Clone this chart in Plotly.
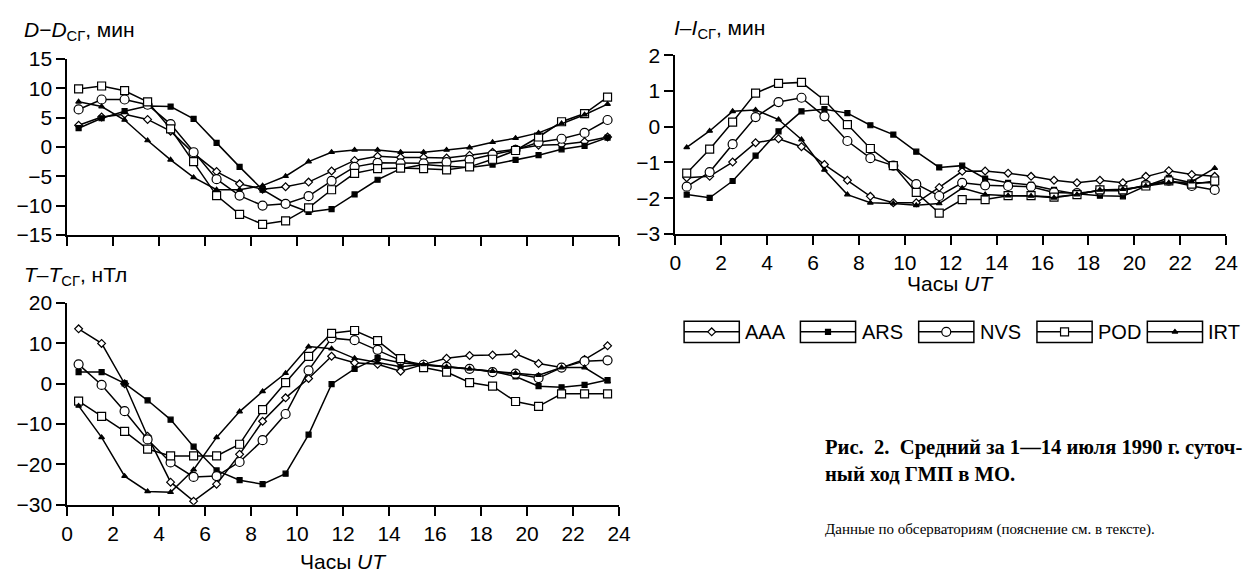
import plotly.graph_objects as go

hours = [0.5, 1.5, 2.5, 3.5, 4.5, 5.5, 6.5, 7.5, 8.5, 9.5, 10.5, 11.5,
         12.5, 13.5, 14.5, 15.5, 16.5, 17.5, 18.5, 19.5, 20.5, 21.5, 22.5, 23.5]
stations = ["AAA", "ARS", "NVS", "POD", "IRT"]

# D - D_SG, min
D_AAA = [3.7, 5.1, 5.6, 4.7, 2.7, -1.1, -4.2, -6.3, -7.2, -6.8, -6.0, -4.1,
         -2.3, -1.6, -1.8, -1.8, -1.9, -1.4, -0.9, -0.4, 0.3, 0.4, 0.9, 1.7]
D_ARS = [3.2, 4.9, 6.1, 7.0, 6.9, 4.8, 0.7, -3.4, -7.3, -9.6, -11.1, -10.6,
         -8.1, -5.6, -3.7, -3.0, -3.3, -3.5, -3.0, -2.2, -1.4, -0.4, 0.2, 1.6]
D_NVS = [6.4, 8.1, 8.1, 7.2, 3.9, -0.9, -5.5, -8.3, -10.0, -9.7, -8.4, -5.8,
         -3.4, -2.7, -2.8, -2.8, -2.6, -2.2, -1.3, -0.5, 0.8, 1.4, 2.4, 4.6]
D_POD = [9.9, 10.4, 9.6, 7.7, 3.1, -2.5, -8.3, -11.5, -13.2, -12.6, -10.4, -7.3,
         -4.5, -3.7, -3.6, -3.7, -3.9, -3.4, -2.1, -0.6, 1.7, 4.3, 5.7, 8.5]
D_IRT = [7.7, 6.9, 4.6, 1.1, -2.2, -5.2, -7.3, -7.3, -6.6, -5.0, -2.5, -0.9,
         -0.5, -0.5, -0.9, -0.9, -0.5, -0.1, 0.8, 1.5, 2.4, 4.0, 5.5, 7.3]

# T - T_SG, nT
T_AAA = [13.6, 10.0, 0.0, -13.0, -24.4, -29.1, -24.9, -17.5, -9.3, -3.5, 1.3, 6.8,
         5.2, 4.8, 3.1, 4.8, 6.3, 7.0, 7.1, 7.4, 5.0, 4.0, 6.0, 9.4]
T_ARS = [2.9, 2.9, 0.1, -4.1, -8.9, -15.6, -21.5, -23.9, -24.9, -22.3, -12.6, -0.1,
         3.7, 6.4, 5.2, 4.7, 4.2, 3.7, 3.1, 1.8, -0.6, -0.9, -0.3, 0.9]
T_NVS = [4.8, -0.3, -6.8, -13.8, -19.5, -23.1, -22.9, -19.4, -14.0, -7.5, 3.3, 11.3,
         10.8, 8.4, 5.8, 4.7, 4.2, 3.7, 2.9, 2.5, 1.4, 4.0, 5.6, 5.8]
T_POD = [-4.3, -8.1, -11.8, -16.2, -17.9, -17.9, -17.9, -15.0, -6.4, 0.3, 6.8, 12.5,
         13.2, 10.7, 6.2, 4.0, 2.9, 0.3, -0.6, -4.4, -5.6, -2.5, -2.5, -2.5]
T_IRT = [-5.5, -13.3, -22.9, -26.7, -26.9, -21.3, -13.3, -6.9, -1.9, 2.6, 9.2, 8.7,
         6.3, 5.2, 4.2, 4.8, 4.2, 3.7, 3.1, 2.6, 2.1, 4.0, 4.0, 0.5]

# I - I_SG, min
I_AAA = [-1.43, -1.39, -0.99, -0.45, -0.34, -0.56, -1.06, -1.50, -1.95, -2.13, -2.13, -1.70,
         -1.25, -1.24, -1.30, -1.39, -1.50, -1.57, -1.50, -1.57, -1.39, -1.23, -1.34, -1.39]
I_ARS = [-1.90, -1.99, -1.52, -0.81, -0.13, 0.43, 0.49, 0.38, 0.04, -0.22, -0.70, -1.14,
         -1.09, -1.45, -1.57, -1.63, -1.77, -1.88, -1.93, -1.95, -1.66, -1.43, -1.57, -1.57]
I_NVS = [-1.68, -1.27, -0.49, 0.27, 0.69, 0.81, 0.29, -0.40, -0.88, -1.09, -1.61, -1.94,
         -1.57, -1.64, -1.66, -1.68, -1.84, -1.86, -1.79, -1.79, -1.63, -1.51, -1.66, -1.77]
I_POD = [-1.30, -0.63, 0.13, 0.94, 1.21, 1.24, 0.74, 0.06, -0.61, -1.09, -1.84, -2.42,
         -2.04, -2.04, -1.93, -1.93, -1.97, -1.90, -1.77, -1.77, -1.66, -1.52, -1.61, -1.52]
I_IRT = [-0.58, -0.12, 0.43, 0.47, 0.20, -0.36, -1.21, -1.90, -2.13, -2.15, -2.20, -2.15,
         -1.72, -1.90, -1.93, -1.94, -1.99, -1.90, -1.77, -1.75, -1.66, -1.57, -1.54, -1.16]

x_ticks = [0, 2, 4, 6, 8, 10, 12, 14, 16, 18, 20, 22, 24]

W, H = 1251, 583
SANS = "Liberation Sans, Arial, sans-serif"
SERIF = "Liberation Serif, Times New Roman, serif"
TICKFONT = dict(family=SANS, size=21, color="black")

styles = {
    "AAA": dict(symbol="diamond", size=6, color="white"),
    "ARS": dict(symbol="square", size=5, color="black"),
    "NVS": dict(symbol="circle", size=9, color="white"),
    "POD": dict(symbol="square", size=8, color="white"),
    "IRT": dict(symbol="triangle-up", size=5, color="black"),
}

panels = [
    ("x", "y", dict(zip(stations, [D_AAA, D_ARS, D_NVS, D_POD, D_IRT]))),
    ("x2", "y2", dict(zip(stations, [T_AAA, T_ARS, T_NVS, T_POD, T_IRT]))),
    ("x3", "y3", dict(zip(stations, [I_AAA, I_ARS, I_NVS, I_POD, I_IRT]))),
]

fig = go.Figure()
for xa, ya, data in panels:
    for st in stations:
        s = styles[st]
        fig.add_trace(go.Scatter(
            x=hours, y=data[st], mode="lines+markers", name=st,
            xaxis=xa, yaxis=ya, showlegend=False,
            line=dict(color="black", width=1.5),
            marker=dict(symbol=s["symbol"], size=s["size"], color=s["color"],
                        line=dict(color="black", width=1.2)),
        ))

# custom boxed legend in a pixel overlay axis
leg_left = [688, 806, 926, 1046, 1158]
leg_w, leg_h, leg_cy = 56, 22, 333
shapes = []
annotations = []
for i, st in enumerate(stations):
    s = styles[st]
    x0 = leg_left[i]
    fig.add_trace(go.Scatter(x=[x0, x0 + leg_w], y=[leg_cy, leg_cy], mode="lines",
                             xaxis="x4", yaxis="y4", showlegend=False,
                             line=dict(color="black", width=1.5), hoverinfo="skip"))
    fig.add_trace(go.Scatter(x=[x0 + leg_w / 2], y=[leg_cy], mode="markers",
                             xaxis="x4", yaxis="y4", showlegend=False, hoverinfo="skip",
                             marker=dict(symbol=s["symbol"], size=s["size"], color=s["color"],
                                         line=dict(color="black", width=1.2))))
    shapes.append(dict(type="rect", xref="x4", yref="y4", x0=x0, x1=x0 + leg_w,
                       y0=leg_cy - leg_h / 2, y1=leg_cy + leg_h / 2,
                       line=dict(color="black", width=1.5)))
    annotations.append(dict(xref="x4", yref="y4", x=x0 + leg_w + 4, y=leg_cy, text=st,
                            showarrow=False, xanchor="left", yanchor="middle",
                            font=dict(family=SANS, size=20, color="black")))


def txt(x, y, text, size=21, family=SANS, xanchor="left"):
    annotations.append(dict(xref="x4", yref="y4", x=x, y=y, text=text, showarrow=False,
                            xanchor=xanchor, yanchor="middle",
                            font=dict(family=family, size=size, color="black")))


txt(16, 20, "<i>D</i>\u2212<i>D</i><sub>СГ</sub>, мин")
txt(16, 275, "<i>T</i>–<i>T</i><sub>СГ</sub>, нТл")
txt(676, 18, "<i>I</i>–<i>I</i><sub>СГ</sub>, мин")
txt(342, 572, "Часы <i>UT</i>", xanchor="center")
txt(958, 283, "Часы <i>UT</i>", xanchor="center")
txt(829, 453, "<b>Рис.\u00a0 2.\u00a0 Средний за 1—14 июля 1990 г. суточ-</b>", size=20.6, family=SERIF)
txt(829, 481, "<b>ный ход ГМП в МО.</b>", size=20.6, family=SERIF)
txt(829, 539, "Данные по обсерваториям (пояснение см. в тексте).", size=15, family=SERIF)

axis_common = dict(showline=True, linecolor="black", linewidth=1.5, ticks="outside",
                   ticklen=9, tickwidth=1.5, tickcolor="black", showgrid=False,
                   zeroline=False, tickfont=TICKFONT, fixedrange=True)


def px_x(a, b):
    return [a / W, b / W]


def px_y(top, bottom):
    return [1 - bottom / H, 1 - top / H]


fig.update_layout(
    width=W, height=H, margin=dict(l=0, r=0, t=0, b=0),
    paper_bgcolor="white", plot_bgcolor="rgba(0,0,0,0)",
    showlegend=False,
    xaxis=dict(domain=px_x(62, 622), range=[0, 24], tickvals=x_ticks,
               showticklabels=False, anchor="y", **axis_common),
    yaxis=dict(domain=px_y(49, 232), range=[-15, 15], dtick=5, anchor="x", **axis_common),
    xaxis2=dict(domain=px_x(62, 622), range=[0, 24], tickvals=x_ticks, anchor="y2", **axis_common),
    yaxis2=dict(domain=px_y(303, 513), range=[-30, 20], dtick=10, anchor="x2", **axis_common),
    xaxis3=dict(domain=px_x(679, 1238), range=[0, 24], tickvals=x_ticks, anchor="y3", **axis_common),
    yaxis3=dict(domain=px_y(45, 231), range=[-3, 2], dtick=1, anchor="x3", **axis_common),
    xaxis4=dict(domain=[0, 1], range=[0, W], visible=False, fixedrange=True, anchor="y4"),
    yaxis4=dict(domain=[0, 1], range=[H, 0], visible=False, fixedrange=True, anchor="x4"),
    shapes=shapes,
    annotations=annotations,
)

fig.write_html("out.html", post_script="document.body.style.margin='0';",
               config={"displayModeBar": False})
